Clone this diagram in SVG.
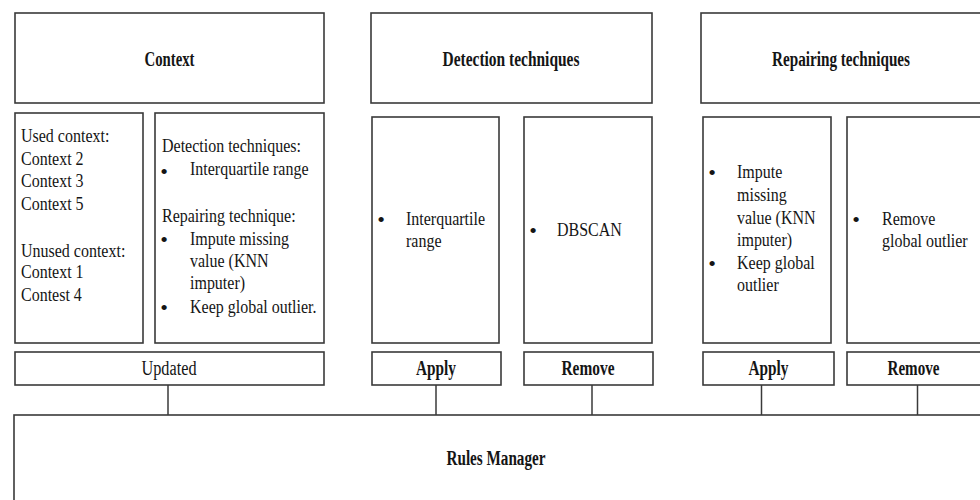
<svg xmlns="http://www.w3.org/2000/svg" width="980" height="500" viewBox="0 0 980 500">
<style>
rect{fill:#fff;stroke:#3a3a3a;stroke-width:1.6}
.c line{stroke:#3a3a3a;stroke-width:1.5}
text{font-family:"Liberation Serif","Times New Roman",serif;fill:#151515}
.t{font-size:20px;font-weight:bold;text-anchor:middle}
.b{font-size:19.5px}
.d{font-size:22px;text-anchor:middle}
.u{font-size:20.5px;text-anchor:middle}
</style>
<rect width="980" height="500" style="fill:#fff;stroke:none"/>
<g id="context">
<rect x="15" y="13" width="309" height="90"/>
<text class="t" x="169.5" y="65.5" textLength="50" lengthAdjust="spacingAndGlyphs">Context</text>
</g>
<g id="used-context">
<rect x="15" y="113" width="128" height="230"/>
<g transform="translate(21 0) scale(0.82 1)">
<text class="b" x="0" y="142">Used context:</text>
<text class="b" x="0" y="165">Context 2</text>
<text class="b" x="0" y="187">Context 3</text>
<text class="b" x="0" y="210">Context 5</text>
<text class="b" x="0" y="257">Unused context:</text>
<text class="b" x="0" y="278">Context 1</text>
<text class="b" x="0" y="301">Contest 4</text>
</g>
</g>
<g id="context-techniques">
<rect x="155" y="113" width="169" height="230"/>
<text class="d" x="164" y="179">•</text>
<text class="d" x="164" y="247">•</text>
<text class="d" x="164" y="315">•</text>
<g transform="translate(162 0) scale(0.82 1)">
<text class="b" x="0" y="152">Detection techniques:</text>
<text class="b" x="0" y="222">Repairing technique:</text>
</g>
<g transform="translate(190 0) scale(0.82 1)">
<text class="b" x="0" y="175">Interquartile range</text>
<text class="b" x="0" y="245">Impute missing</text>
<text class="b" x="0" y="267">value (KNN</text>
<text class="b" x="0" y="289">imputer)</text>
<text class="b" x="0" y="313">Keep global outlier.</text>
</g>
</g>
<g id="updated">
<rect x="15" y="352" width="309" height="33"/>
<text class="u" x="169" y="374.5" textLength="55" lengthAdjust="spacingAndGlyphs">Updated</text>
</g>
<g id="detection-techniques">
<rect x="371" y="13" width="281" height="90"/>
<text class="t" x="511" y="65.5" textLength="137" lengthAdjust="spacingAndGlyphs">Detection techniques</text>
</g>
<g id="detection-apply-list">
<rect x="372" y="117" width="127" height="226"/>
<text class="d" x="381" y="227">•</text>
<g transform="translate(406 0) scale(0.82 1)">
<text class="b" x="0" y="225">Interquartile</text>
<text class="b" x="0" y="247">range</text>
</g>
</g>
<g id="detection-remove-list">
<rect x="524" y="117" width="128" height="226"/>
<text class="d" x="533" y="238">•</text>
<g transform="translate(557 0) scale(0.82 1)">
<text class="b" x="0" y="236">DBSCAN</text>
</g>
</g>
<g id="detection-apply">
<rect x="372" y="352" width="129" height="33"/>
<text class="t" x="436" y="375" textLength="40" lengthAdjust="spacingAndGlyphs">Apply</text>
</g>
<g id="detection-remove">
<rect x="524" y="352" width="129" height="33"/>
<text class="t" x="588" y="375" textLength="53" lengthAdjust="spacingAndGlyphs">Remove</text>
</g>
<g id="repairing-techniques">
<rect x="701" y="13" width="290" height="90"/>
<text class="t" x="841" y="65.5" textLength="138" lengthAdjust="spacingAndGlyphs">Repairing techniques</text>
</g>
<g id="repairing-apply-list">
<rect x="703" y="117" width="128" height="226"/>
<text class="d" x="712" y="180">•</text>
<text class="d" x="712" y="271">•</text>
<g transform="translate(737 0) scale(0.82 1)">
<text class="b" x="0" y="178">Impute</text>
<text class="b" x="0" y="201">missing</text>
<text class="b" x="0" y="224">value (KNN</text>
<text class="b" x="0" y="246">imputer)</text>
<text class="b" x="0" y="269">Keep global</text>
<text class="b" x="0" y="291">outlier</text>
</g>
</g>
<g id="repairing-remove-list">
<rect x="847" y="117" width="145" height="226"/>
<text class="d" x="856" y="227">•</text>
<g transform="translate(882 0) scale(0.82 1)">
<text class="b" x="0" y="225">Remove</text>
<text class="b" x="0" y="247">global outlier</text>
</g>
</g>
<g id="repairing-apply">
<rect x="703" y="352" width="131" height="33"/>
<text class="t" x="768.5" y="375" textLength="40" lengthAdjust="spacingAndGlyphs">Apply</text>
</g>
<g id="repairing-remove">
<rect x="847" y="352" width="145" height="33"/>
<text class="t" x="913.5" y="375" textLength="52" lengthAdjust="spacingAndGlyphs">Remove</text>
</g>
<g id="rules-manager">
<rect x="14" y="415" width="980" height="100"/>
<text class="t" x="496" y="465" textLength="99" lengthAdjust="spacingAndGlyphs">Rules Manager</text>
</g>
<g id="connectors" class="c">
<line x1="168" y1="385" x2="168" y2="415"/>
<line x1="436" y1="385" x2="436" y2="415"/>
<line x1="592" y1="385" x2="592" y2="415"/>
<line x1="761.5" y1="385" x2="761.5" y2="415"/>
<line x1="917.5" y1="385" x2="917.5" y2="415"/>
</g>
</svg>
